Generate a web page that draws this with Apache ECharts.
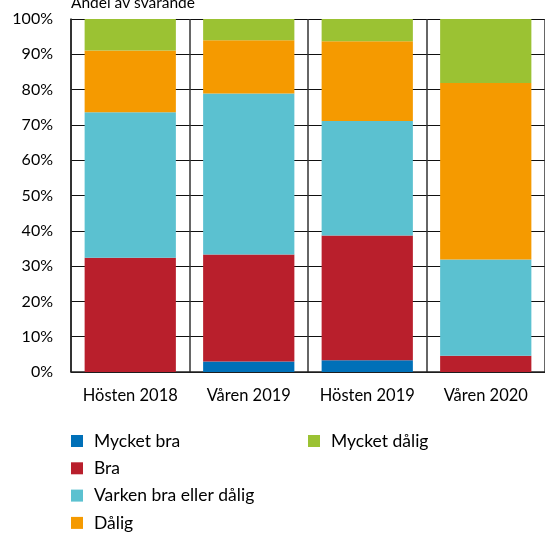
<!DOCTYPE html>
<html>
<head>
<meta charset="utf-8">
<script src="https://cdn.jsdelivr.net/npm/echarts@6/dist/echarts.min.js"></script>
<style>
  html, body { margin: 0; padding: 0; background: #fff; }
  #chart { width: 545px; height: 534px; }
</style>
</head>
<body>
<div id="chart"></div>
<script>
var categories = ['Hösten 2018', 'Våren 2019', 'Hösten 2019', 'Våren 2020'];
var yTicks = ['0%', '10%', '20%', '30%', '40%', '50%', '60%', '70%', '80%', '90%', '100%'];

var mycketBra = [0, 3.0, 3.3, 0];
var bra = [32.4, 30.3, 35.4, 4.6];
var varken = [41.2, 45.6, 32.4, 27.3];
var dalig = [17.5, 15.1, 22.6, 50.0];
var mycketDalig = [8.9, 6.0, 6.3, 18.1];

var font = 'Lato, "Open Sans", sans-serif';

var myChart = echarts.init(document.getElementById('chart'));

function bar(name, data, color) {
    return {
        name: name,
        type: 'bar',
        stack: 'total',
        barCategoryGap: '23%',
        itemStyle: { color: color },
        data: data
    };
}

var legendText = { fontFamily: font, fontSize: 17.5, color: '#000', lineHeight: 18, padding: [0, 0, 0, 6] };

var option = {
    animation: false,
    textStyle: { fontFamily: font },
    title: {
        text: 'Andel av svarande',
        left: 66,
        top: -10,
        textStyle: { fontFamily: font, fontSize: 15.5, fontWeight: 'normal', color: '#000' }
    },
    grid: { left: 71, right: 0, top: 19, bottom: 162 },
    legend: [
        {
            data: ['Mycket bra', 'Bra', 'Varken bra eller dålig', 'Dålig'],
            orient: 'vertical',
            left: 66,
            top: 427,
            height: 130,
            itemWidth: 12,
            itemHeight: 12,
            itemGap: 9.3,
            icon: 'rect',
            textStyle: legendText
        },
        {
            data: ['Mycket dålig'],
            orient: 'vertical',
            left: 303,
            top: 427,
            itemWidth: 12,
            itemHeight: 12,
            icon: 'rect',
            textStyle: legendText
        }
    ],
    xAxis: {
        type: 'category',
        data: categories,
        axisLine: { lineStyle: { color: '#222', width: 1.5 } },
        axisTick: { show: false },
        axisLabel: { interval: 0, margin: 15, fontSize: 16.5, color: '#000', fontFamily: font },
        splitLine: { show: true, interval: 0, lineStyle: { color: '#333', width: 1.5 } }
    },
    yAxis: {
        type: 'value',
        min: 0,
        max: 100,
        interval: 10,
        axisLine: { show: true, lineStyle: { color: '#222', width: 1.5 } },
        axisTick: { show: false },
        axisLabel: {
            margin: 18,
            fontSize: 16,
            color: '#000',
            fontFamily: font,
            formatter: function (v) { return yTicks[Math.round(v / 10)]; }
        },
        splitLine: { lineStyle: { color: '#111', width: 1 } }
    },
    series: [
        bar('Mycket bra', mycketBra, '#0070b8'),
        bar('Bra', bra, '#b91f2c'),
        bar('Varken bra eller dålig', varken, '#5bc1d0'),
        bar('Dålig', dalig, '#f59a00'),
        bar('Mycket dålig', mycketDalig, '#9bc233')
    ]
};

myChart.setOption(option);
</script>
</body>
</html>
